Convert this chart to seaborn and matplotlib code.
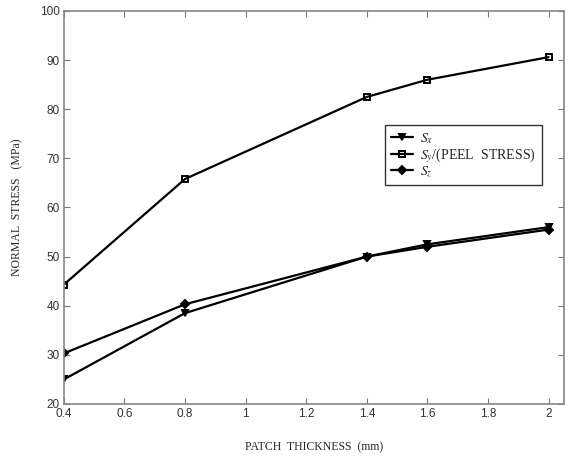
import pandas as pd
import matplotlib
matplotlib.use("Agg")
import matplotlib.pyplot as plt
import seaborn as sns

# data
thickness = [0.4, 0.8, 1.4, 1.6, 2.0]
s_x = [25.0, 38.5, 50.0, 52.5, 56.0]
s_y = [44.3, 65.8, 82.5, 86.0, 90.6]
s_z = [30.3, 40.3, 50.0, 52.0, 55.5]
names = ["$S_x$", "$S_y$/(PEEL  STRESS)", "$S_z$"]
markers = ["v", "s", "D"]
faces = ["black", "none", "black"]
msizes = [5, 5, 4]

sns.set_style("white")
plt.rcParams["mathtext.fontset"] = "stix"

fig = plt.figure(figsize=(5.7, 4.57), dpi=100)
ax = fig.add_axes([0.112, 0.116, 0.877, 0.86])

for vals, name, mk, fc, ms in zip([s_x, s_y, s_z], names, markers, faces, msizes):
    sns.lineplot(x=thickness, y=vals, color="black", linewidth=1.6,
                 marker=mk, markersize=ms, markerfacecolor=fc,
                 markeredgecolor="black", markeredgewidth=1.4,
                 label=name, ax=ax)

ax.set_xlim(0.4, 2.05)
ax.set_ylim(20, 100)
ax.set_xticks([0.4, 0.6, 0.8, 1.0, 1.2, 1.4, 1.6, 1.8, 2.0])
ax.set_xticklabels(["0.4", "0.6", "0.8", "1", "1.2", "1.4", "1.6", "1.8", "2"])
ax.set_yticks(range(20, 101, 10))
ax.tick_params(direction="in", length=4, color="#777777", labelsize=8.5,
               top=True, right=True, left=True, bottom=True, pad=3)
for lab in ax.get_xticklabels() + ax.get_yticklabels():
    lab.set_family("Liberation Sans")
    lab.set_color("#333333")
for sp in ax.spines.values():
    sp.set_color("#888888")
    sp.set_linewidth(1.2)

ax.set_xlabel("PATCH  THICKNESS  (mm)", family="Liberation Serif",
              fontsize=8.5, labelpad=15)
ax.set_ylabel("NORMAL  STRESS   (MPa)", family="Liberation Serif",
              fontsize=8.5, labelpad=12)

leg = ax.legend(loc="upper left", bbox_to_anchor=(0.642, 0.71),
                frameon=True, fancybox=False,
                handlelength=1.6, labelspacing=0.0, borderpad=0.45,
                handletextpad=0.5, borderaxespad=0.0,
                prop={"family": "Liberation Serif", "size": 10})
leg.get_frame().set_edgecolor("black")
leg.get_frame().set_linewidth(1.0)

fig.savefig("out.png", dpi=100)
